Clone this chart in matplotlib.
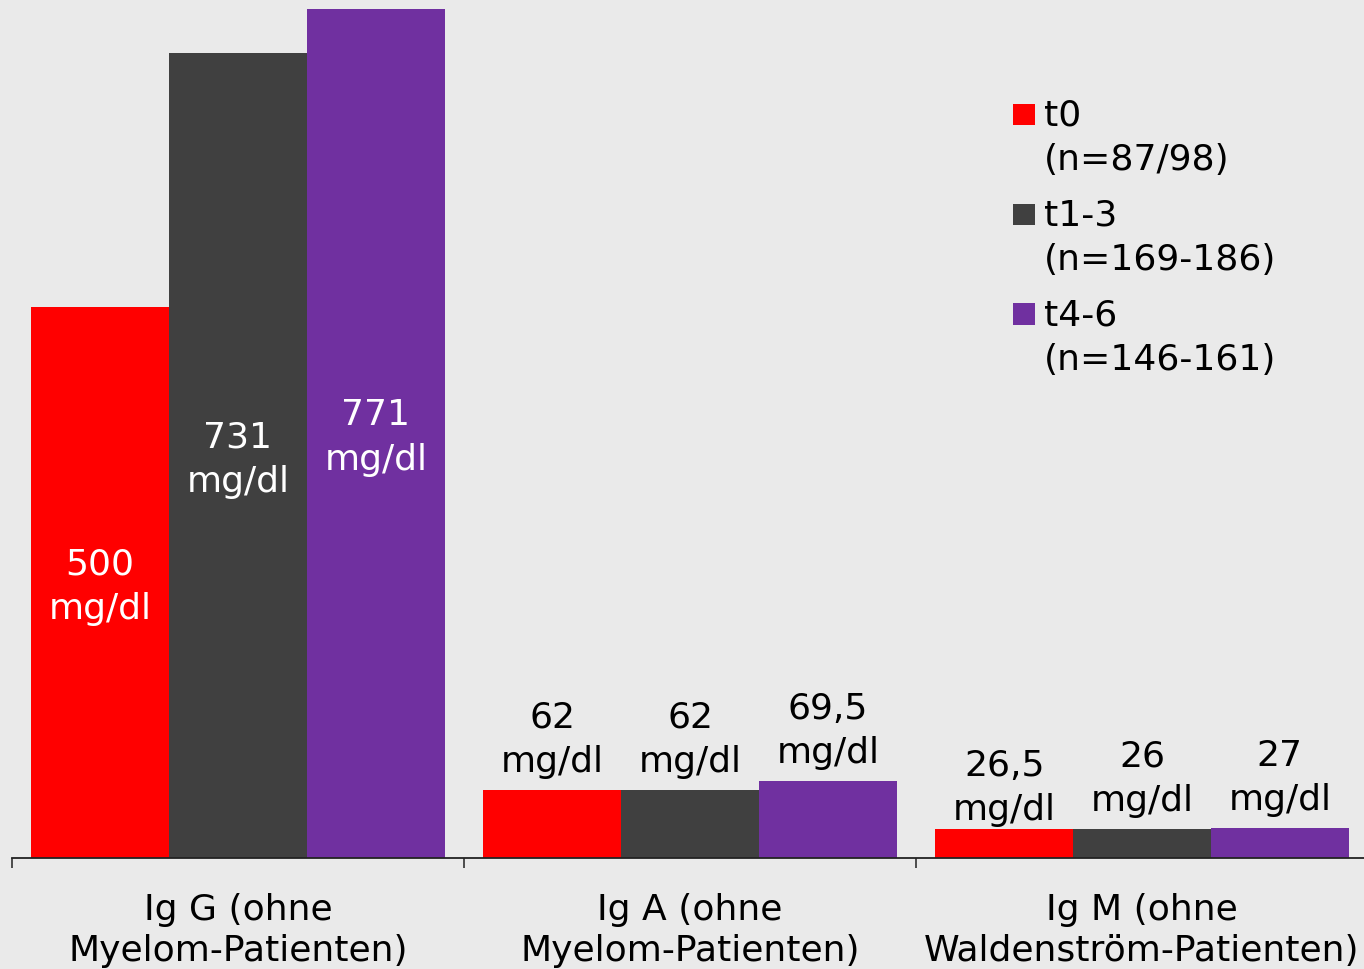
import numpy as np
import matplotlib.pyplot as plt
from matplotlib.container import BarContainer
from matplotlib.legend_handler import HandlerBase
from matplotlib.patches import Rectangle

# Daten aus der Abbildung (Median-Werte in mg/dl)
groups = ["Ig G (ohne\nMyelom-Patienten)",
          "Ig A (ohne\nMyelom-Patienten)",
          "Ig M (ohne\nWaldenström-Patienten)"]
series_names = ["t0\n(n=87/98)", "t1-3\n(n=169-186)", "t4-6\n(n=146-161)"]
t0_values = [500, 62, 26.5]
t13_values = [731, 62, 26]
t46_values = [771, 69.5, 27]
t0_labels = ["500\nmg/dl", "62\nmg/dl", "26,5\nmg/dl"]
t13_labels = ["731\nmg/dl", "62\nmg/dl", "26\nmg/dl"]
t46_labels = ["771\nmg/dl", "69,5\nmg/dl", "27\nmg/dl"]
colors = ["#FF0000", "#404040", "#7030A0"]
bg = "#EAEAEA"

# Abstand der Beschriftung über dem Balken (pt), Ig G steht im Balken
label_pad = [[None, 8, 1], [None, 8, 8], [None, 8, 8]]


class TopSquare(HandlerBase):
    # Quadrat neben der ersten Zeile des Legendentexts
    def create_artists(self, legend, orig_handle, xdescent, ydescent,
                       width, height, fontsize, trans):
        size = 0.6 * fontsize
        sq = Rectangle((-xdescent, 0.73 * fontsize), size, size,
                       facecolor=orig_handle[0].get_facecolor(),
                       edgecolor="none", transform=trans)
        return [sq]


plt.rcParams["font.family"] = "DejaVu Sans"
fig = plt.figure(figsize=(13.64, 9.69), dpi=100, facecolor=bg)
ax = fig.add_axes([12 / 1364, 111 / 969, 1356 / 1364, 858 / 969])
ax.set_facecolor(bg)

x = np.arange(len(groups))
w = 0.305
all_values = [t0_values, t13_values, t46_values]
all_labels = [t0_labels, t13_labels, t46_labels]
containers = []
for i, (vals, labs, col, name) in enumerate(zip(all_values, all_labels, colors, series_names)):
    bars = ax.bar(x + (i - 1) * w, vals, w, color=col, label=name)
    containers.append(bars)
    for j in range(len(groups)):
        only = [labs[k] if k == j else "" for k in range(len(groups))]
        if label_pad[i][j] is None:
            texts = ax.bar_label(bars, labels=only, label_type="center",
                                 color="white", fontsize=26)
            for t in texts:
                t.xyann = (0, -3)
        else:
            texts = ax.bar_label(bars, labels=only, label_type="edge",
                                 padding=label_pad[i][j], color="black", fontsize=26)
        for t in texts:
            t.set_linespacing(1.38)

ax.set_xlim(-0.5, 2.5)
ax.set_ylim(0, 779)
ax.set_xticks(x)
ax.set_xticklabels(groups, fontsize=26, linespacing=1.28)
ax.set_xticks(np.arange(-0.5, 3, 1), minor=True)
ax.tick_params(axis="x", which="major", length=0, pad=25)
ax.tick_params(axis="x", which="minor", length=7.5, width=1.1, color="#222222")
ax.set_yticks([])
for s in ["top", "right", "left"]:
    ax.spines[s].set_visible(False)
ax.spines["bottom"].set_color("#222222")
ax.spines["bottom"].set_linewidth(1.3)

leg = ax.legend(handles=containers, handler_map={BarContainer: TopSquare()},
                loc="upper left", bbox_to_anchor=(1013 / 1364, 1 - 99 / 969),
                bbox_transform=fig.transFigure, frameon=False, fontsize=26,
                borderpad=0, borderaxespad=0, handlelength=0.6,
                handletextpad=0.25, labelspacing=0.6)
for t in leg.get_texts():
    t.set_linespacing(1.38)

fig.savefig("out.png", dpi=100, facecolor=bg)
